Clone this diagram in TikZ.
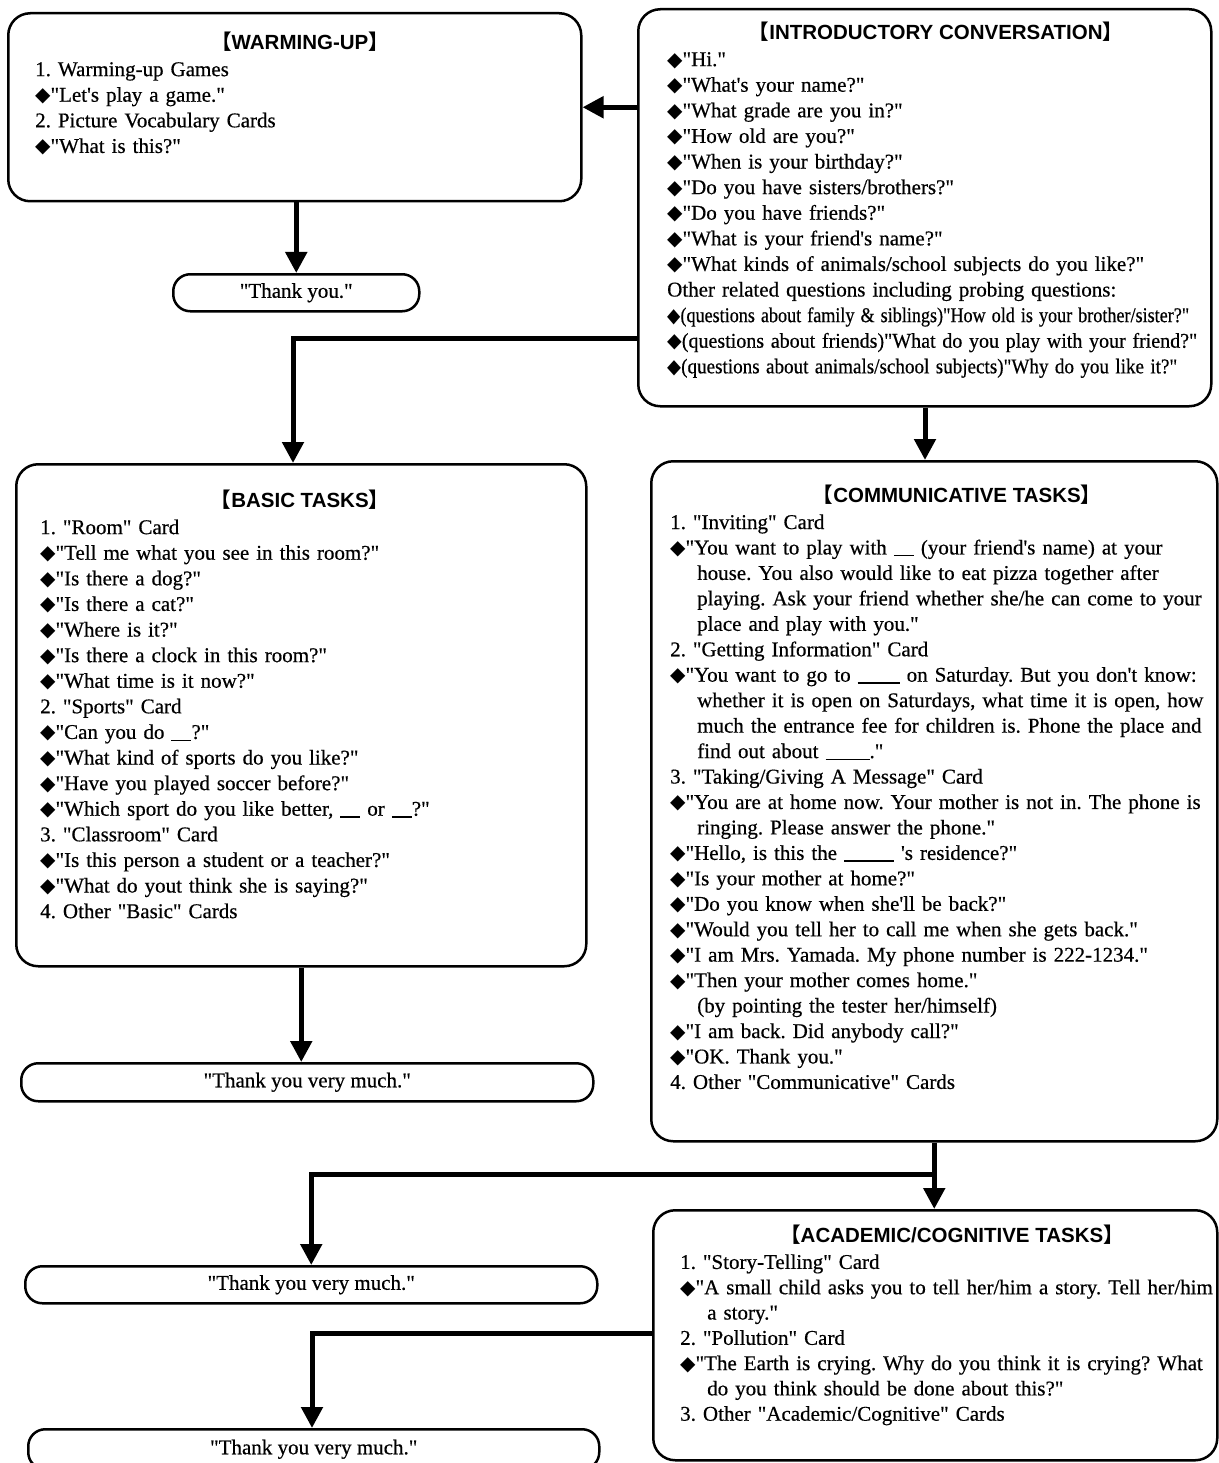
\documentclass[tikz,border=0pt]{standalone}
\usepackage{fontspec}
\usepackage{graphicx}
\setmainfont{Liberation Serif}[Ligatures=TeXOff, FakeBold=0.5]
\newfontfamily\headfont{Liberation Sans}
\newfontfamily\bracketfont{Noto Sans CJK JP}
\newfontfamily\symfont{DejaVu Sans}
\usetikzlibrary{arrows.meta}
\frenchspacing

% bullet diamond, section heading with lenticular brackets, answer blank
\newcommand\dm{{\symfont\fontsize{20}{20}\selectfont ◆}}
\newcommand\hd[1]{{\bracketfont 【}#1{\bracketfont 】}}
\newcommand\blank[1]{\rule[-2pt]{#1pt}{1.4pt}}
\newcommand\fitw[2]{\resizebox{#1pt}{\height}{#2}}
\newcommand\cont{\hspace*{27pt}}

\tikzset{
  box/.style={draw, line width=2.5pt, rounded corners=22pt, inner sep=0pt, anchor=north west},
  pill/.style={draw, line width=2.5pt, rounded corners=17pt, inner sep=0pt, anchor=north west},
  pilltext/.style={inner sep=0pt, font=\fontsize{21}{24}\selectfont},
  body/.style={anchor=north west, inner sep=0pt, align=left, text width=580pt},
  title/.style={anchor=base, inner sep=0pt, font=\headfont\bfseries\fontsize{20.5}{24}\selectfont},
  flow/.style={line width=5pt, -{Triangle[width=21pt,length=21pt]}},
}

\begin{document}
\begin{tikzpicture}[x=1pt,y=-1pt]
\fill[white] (0,0) rectangle (1218,1463);
\useasboundingbox (0,0) rectangle (1218,1463);

% ---------- boxes ----------
\node[box, minimum width=573pt, minimum height=188pt] (warm) at (7,12) {};
\node[box, minimum width=573pt, minimum height=397pt] (intro) at (637,8) {};
\node[box, minimum width=570pt, minimum height=502pt] (basic) at (15,463) {};
\node[box, minimum width=566pt, minimum height=680pt] (comm) at (650,460) {};
\node[box, minimum width=564pt, minimum height=250pt] (acad) at (652,1209) {};

\node[pill, minimum width=246pt, minimum height=37pt] (ty0) at (172,273) {};
\node[pill, minimum width=572pt, minimum height=38pt] (ty1) at (20,1062) {};
\node[pill, minimum width=572pt, minimum height=37pt] (ty2) at (24,1265) {};
\node[pill, minimum width=571pt, minimum height=40pt] (ty3) at (27,1428) {};

\node[pilltext] (ty0t) at (ty0.center) {"Thank you."};
\node[pilltext] (ty1t) at (ty1.center) {"Thank you very much."};
\node[pilltext] (ty2t) at (ty2.center) {"Thank you very much."};
\node[pilltext] (ty3t) at (ty3.center) {"Thank you very much."};

% ---------- headings ----------
\node[title] (warmT) at (300,50) {\hd{WARMING-UP}};
\node[title] (introT) at (936,40) {\hd{INTRODUCTORY CONVERSATION}};
\node[title] (basicT) at (300,507) {\hd{BASIC TASKS}};
\node[title] (commT) at (957,502) {\hd{COMMUNICATIVE TASKS}};
\node[title] (acadT) at (952,1242) {\hd{ACADEMIC/COGNITIVE TASKS}};

% ---------- contents ----------
\node[body, font=\fontsize{21}{25.6}\selectfont] (warmB) at (35,58) {\strut
1. Warming-up Games\\
\dm"Let's play a game."\\
2. Picture Vocabulary Cards\\
\dm"What is this?"};

\node[body, font=\fontsize{21}{25.6}\selectfont] (introB) at (667,48) {\strut
\dm"Hi."\\
\dm"What's your name?"\\
\dm"What grade are you in?"\\
\dm"How old are you?"\\
\dm"When is your birthday?"\\
\dm"Do you have sisters/brothers?"\\
\dm"Do you have friends?"\\
\dm"What is your friend's name?"\\
\dm"What kinds of animals/school subjects do you like?"\\
Other related questions including probing questions:\\
\fitw{522}{\dm(questions about family \& siblings)"How old is your brother/sister?"}\\
\fitw{530}{\dm(questions about friends)"What do you play with your friend?"}\\
\fitw{510}{\dm(questions about animals/school subjects)"Why do you like it?"}};

\node[body, font=\fontsize{21}{25.6}\selectfont] (basicB) at (40,516) {\strut
1. "Room" Card\\
\dm"Tell me what you see in this room?"\\
\dm"Is there a dog?"\\
\dm"Is there a cat?"\\
\dm"Where is it?"\\
\dm"Is there a clock in this room?"\\
\dm"What time is it now?"\\
2. "Sports" Card\\
\dm"Can you do \blank{20}?"\\
\dm"What kind of sports do you like?"\\
\dm"Have you played soccer before?"\\
\dm"Which sport do you like better, \blank{20} or \blank{20}?"\\
3. "Classroom" Card\\
\dm"Is this person a student or a teacher?"\\
\dm"What do yout think she is saying?"\\
4. Other "Basic" Cards};

\node[body, font=\fontsize{21}{25.45}\selectfont] (commB) at (670,511) {\strut
1. "Inviting" Card\\
\dm"You want to play with \blank{20} (your friend's name) at your\\
\cont house. You also would like to eat pizza together after\\
\cont playing. Ask your friend whether she/he can come to your\\
\cont place and play with you."\\
2. "Getting Information" Card\\
\dm"You want to go to \blank{42} on Saturday. But you don't know:\\
\cont whether it is open on Saturdays, what time it is open, how\\
\cont much the entrance fee for children is. Phone the place and\\
\cont find out about \blank{44}."\\
3. "Taking/Giving A Message" Card\\
\dm"You are at home now. Your mother is not in. The phone is\\
\cont ringing. Please answer the phone."\\
\dm"Hello, is this the \blank{50} 's residence?"\\
\dm"Is your mother at home?"\\
\dm"Do you know when she'll be back?"\\
\dm"Would you tell her to call me when she gets back."\\
\dm"I am Mrs. Yamada. My phone number is 222-1234."\\
\dm"Then your mother comes home."\\
\cont (by pointing the tester her/himself)\\
\dm"I am back. Did anybody call?"\\
\dm"OK. Thank you."\\
4. Other "Communicative" Cards};

\node[body, font=\fontsize{21}{25.3}\selectfont] (acadB) at (680,1251) {\strut
1. "Story-Telling" Card\\
\dm"A small child asks you to tell her/him a story. Tell her/him\\
\cont a story."\\
2. "Pollution" Card\\
\dm"The Earth is crying. Why do you think it is crying? What\\
\cont do you think should be done about this?"\\
3. Other "Academic/Cognitive" Cards};

% ---------- connectors ----------
\coordinate (j1) at (293,338);
\coordinate (j2) at (925,405);
\coordinate (j3) at (933,1174);
\coordinate (j4) at (312,1333);

\draw[flow] (intro.west |- warm.east) -- (warm.east);
\draw[flow] (warm.south -| ty0.north) -- (ty0.north);
\draw[flow] (j1 -| intro.west) -- (j1) -- (j1 |- basic.north);
\draw[flow] (j2 |- intro.south) -- (j2 |- comm.north);
\draw[flow] (basic.south) -- (basic.south |- ty1.north);
\draw[flow] (comm.south) -- (comm.south |- acad.north);
\draw[flow] (j3) -- (j3 -| ty2.north) -- (ty2.north);
\draw[flow] (j4 -| acad.west) -- (j4) -- (j4 |- ty3.north);
\end{tikzpicture}
\end{document}
